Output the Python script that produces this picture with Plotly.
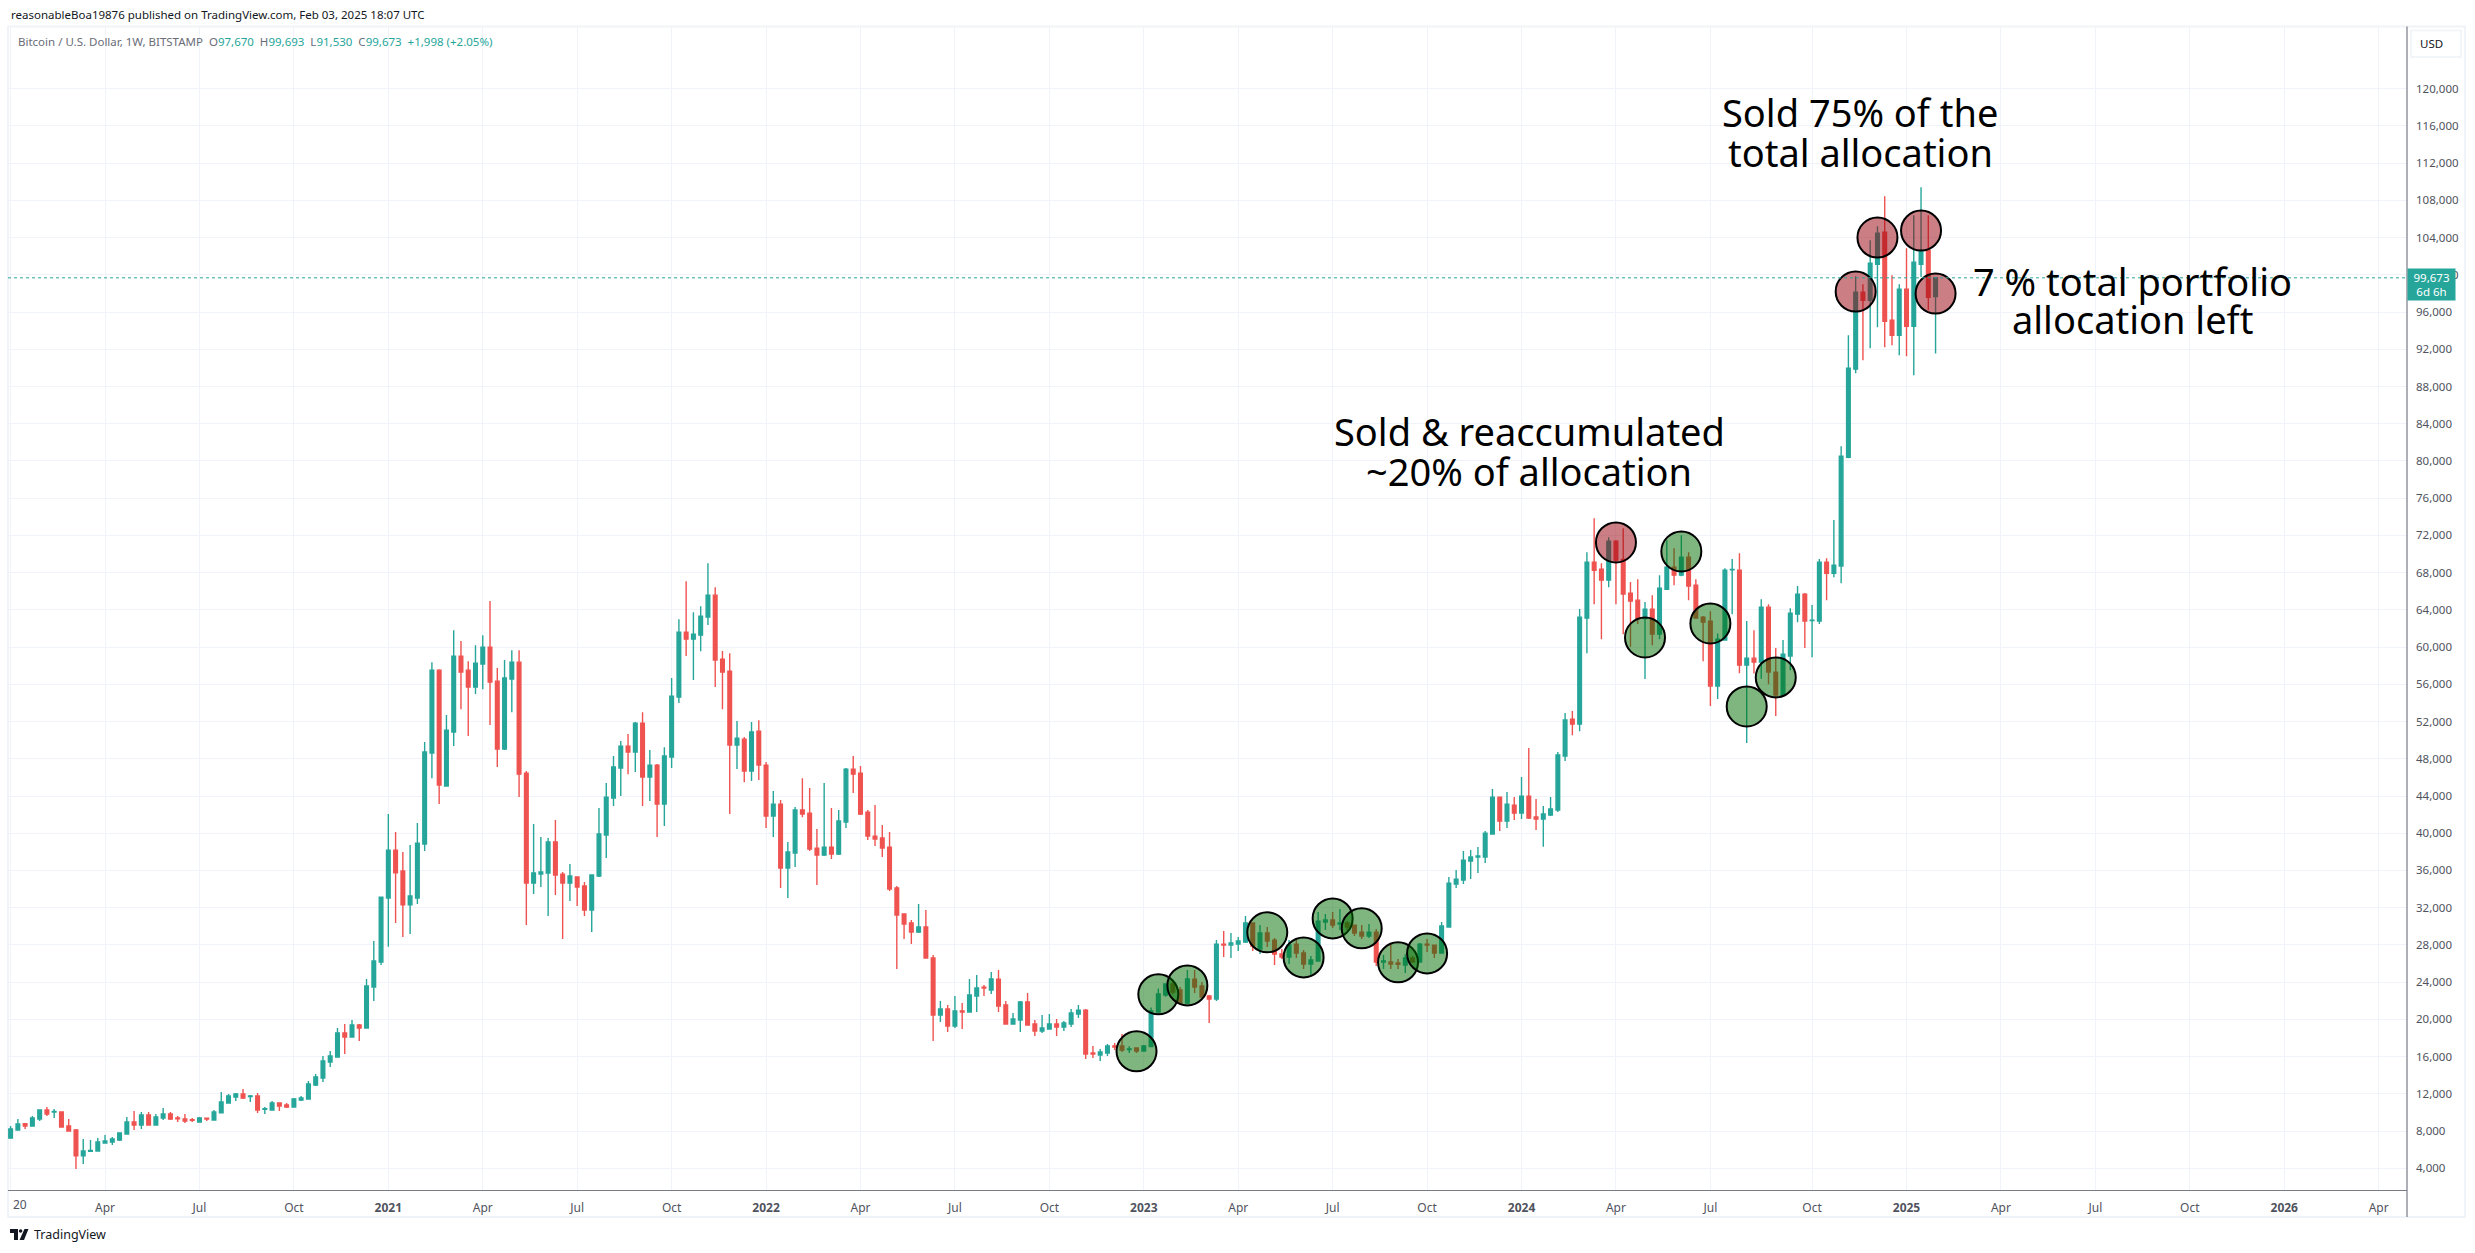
import pandas as pd
import plotly.graph_objects as go

opens = [7240,8120,8800,8550,9300,10260,10050,10050,8550,8120,
5330,5820,5860,6720,6830,7040,7690,8980,8660,9730,
8660,9400,9840,9400,9300,9230,8980,9370,9190,9950,
11020,11660,11980,11700,11770,10340,10265,11020,10800,10590,
11340,11450,12950,13700,15420,15960,18530,18100,19390,19070,
23470,26160,33040,38190,35940,32320,33040,38840,48610,57520,
45070,50870,59030,57520,55700,58170,59990,56340,49040,56560,
58380,46460,34650,35610,35720,39050,35610,34650,35290,34330,
31750,35400,39800,43780,47000,49360,48720,51830,46030,47320,
43130,48180,54620,61600,60850,61280,63220,65580,58700,57420,
49470,50110,46680,50970,47320,41840,43130,36260,37870,42490,
42160,38400,37650,38510,37760,41200,46890,46460,42270,39690,
39480,38510,34110,31320,30350,29380,29920,26590,20470,21110,
19290,20900,20790,22510,23470,23150,24330,21540,19500,19930,
21860,19500,18750,18960,19500,19180,19500,20580,21000,16390,
16170,16390,17140,17140,16760,16920,16600,17070,20790,22620,
23800,23150,21760,24330,23580,22510,22190,28090,27980,28090,
28310,30350,27560,29280,28520,27020,26700,28090,27130,25940,
26270,30460,30670,30240,30350,30130,29380,28950,29380,26160,
26160,26050,25840,26590,26160,28090,27980,27130,29920,34540,
34970,37010,37440,37440,39910,43880,41300,43020,42170,43990,
41740,41520,41950,42490,48290,52260,51720,63110,69120,68370,
67190,71380,69410,65790,65040,63070,64080,61390,66220,68590,
67730,69660,66650,63220,62790,55810,60750,68290,68260,58060,
58810,58380,64290,57310,54840,59030,63540,65690,62860,62790,
69120,67940,68700,80400,89860,98120,97260,101130,104570,95120,
93510,98450,94470,101130,102630,97670]
highs = [8550,9300,8870,9620,10260,10580,10370,10050,9300,8230,
7150,7040,7260,7580,7370,7790,9510,10160,10050,10050,
9840,10480,10050,9620,9840,9410,9510,9400,10265,12200,
11980,12090,12520,11880,12090,10590,11230,11020,11020,11550,
11770,13380,14130,16060,16600,19070,19500,19930,19500,24330,
28420,33140,42060,40120,37980,38730,41090,49790,58380,57630,
52690,61820,60640,58490,60210,61280,64940,57740,58600,59670,
59670,46680,40980,39590,39480,41410,35830,36690,35290,34760,
35510,42700,45390,48290,49900,50650,51940,53010,48930,47430,
49250,56670,63000,67080,63750,64400,69020,66440,59570,59350,
52050,50330,51940,52150,47640,44530,43560,39050,42810,45920,
44850,40450,45390,42700,42490,47000,48290,47210,42490,43020,
40880,40120,34320,31320,30670,32390,31750,26910,21970,21540,
22510,21760,24340,24770,23690,25090,25300,21970,20680,21970,
22830,19930,20470,20580,20040,19830,21110,21540,21110,17140,
16820,17350,17460,18430,17100,16930,17250,21290,23330,23800,
24230,23480,25300,25300,24010,22620,28520,29490,29280,28850,
31100,30400,30130,29920,28740,27560,28520,28520,27450,26810,
31530,31320,31530,31850,30560,30130,30130,30240,29700,26910,
28090,26480,27000,26810,28200,28630,28000,30460,35290,36040,
38080,38190,38510,40230,44740,43880,44420,43880,46030,49150,
43670,42920,43890,48720,52910,53120,64080,70200,73850,69020,
71810,71500,72780,66980,67300,64830,65580,67730,71490,70630,
72020,70200,67300,63330,63860,61460,68480,69450,70090,62790,
61820,65150,64610,59890,60750,64180,66550,65800,64510,69450,
69550,73640,81580,93510,99840,98980,103710,105210,108440,99950,
98980,102850,106390,109400,106390,99693]
lows = [7240,8120,8230,8550,9080,9620,9400,8440,8010,3930,
4470,5750,5860,6720,6510,6930,7690,8120,8230,8660,
8660,9190,9190,8980,8870,8980,8980,9080,9190,9950,
11020,11230,11440,11120,9950,9840,10265,10160,10480,10590,
11230,11450,12840,13270,14880,15960,16280,18100,17680,19070,
21970,25840,27800,30350,28850,29170,32390,38080,45920,43130,
45070,49360,53330,50440,54950,55480,51620,47110,48930,53010,
43880,30140,33470,34220,31100,33360,28630,32710,32180,31100,
29380,35290,37330,42920,43990,46350,46570,42920,43450,39590,
40770,47000,53980,59030,56450,59560,62360,55700,53330,42060,
46890,45490,45600,45710,40550,39590,34110,33030,36360,41730,
38080,34430,37550,37220,37650,40550,44310,41950,39260,38620,
37440,33790,25410,28630,28090,29280,26590,17680,19720,18640,
19070,18960,20790,20790,22510,22720,20790,19500,19500,18640,
19390,18210,18540,18960,18210,18750,19180,20150,15740,15850,
15530,16070,16710,16500,16390,16390,16600,17030,20680,22430,
22700,21650,21650,22830,22400,19610,21970,26700,26590,27340,
28200,27340,27020,27770,25840,26480,25940,26590,25410,24660,
26270,29600,29810,29600,29600,28950,28630,28740,25730,25410,
25410,25410,24980,26100,26160,27230,26590,27130,29920,34110,
34540,35070,35720,36790,39910,40230,40550,41410,41520,41520,
40340,38550,41840,42270,47750,50540,50970,59350,64610,60850,
66440,64610,61390,60030,62470,56560,60210,60850,66120,66650,
67620,65040,63110,58490,53660,54410,60750,63540,57200,49690,
57170,56600,56000,52590,54700,57520,62680,59890,58920,62470,
65040,67510,66870,80300,89430,90820,92110,94370,92220,92430,
91360,91250,89210,99770,96190,91530]
closes = [8220,8760,8550,9400,10260,9840,10120,8440,8010,5330,
5860,5930,6830,6940,7150,7790,8980,8660,9730,8660,
9510,9840,9300,9330,9080,9160,9400,9300,10050,11120,
11770,11980,11550,11770,10265,10410,11020,10700,10590,11450,
11550,13060,13810,15530,16060,18530,18100,19390,19070,23580,
26270,33140,38190,35760,32320,33250,38940,48720,57520,45170,
51080,59030,57310,55700,58280,59990,56240,49040,56670,58380,
46350,34650,35720,35830,39050,35510,34650,35400,34220,31750,
35510,39910,43880,47110,49360,48720,51830,46030,47320,43130,
48290,54730,61600,60850,61390,63320,65580,58600,57310,49470,
50220,46680,50870,47320,41840,43130,36260,37980,42490,42060,
38300,37650,38510,37760,41310,46890,46350,42060,39690,39370,
38400,34000,31210,30240,29380,29920,26590,20470,21110,19290,
20900,20790,22620,23370,23370,24340,21440,19500,20040,21860,
19390,18750,19070,19500,19180,19610,20680,21000,16280,16280,
16500,17140,17030,16710,16820,16600,17140,20900,22720,23800,
22940,21760,24340,23480,22400,22190,28090,27980,28200,28420,
30350,27880,29280,28420,27020,26700,27990,27130,25940,26380,
30560,30670,30130,30350,29920,29280,28950,29380,26160,26270,
25940,25910,26590,26160,28090,27980,27130,30030,34640,35070,
37110,37440,37550,40010,43880,41300,43130,42160,43990,41630,
41520,42060,42600,48400,52160,51720,63220,69120,68260,67190,
71380,69340,65690,64940,63070,64080,61390,66330,68590,67730,
69660,66550,63110,62680,55810,60850,68260,68340,58060,58810,
58380,64290,57310,54840,59240,63650,65690,62790,62900,69120,
67940,68800,80510,89960,98120,97260,101240,104460,95010,93510,
98450,94470,101350,102560,97590,99673]
dates = pd.date_range("2020-01-06", periods=len(opens), freq="7D")

green_bars = [155,158,162,173,178,182,186,191,195,225,230,234,239,243]
green_prices = [16570,22690,23650,29350,26660,30850,29780,26130,27090,61030,70270,62540,53620,56740]
red_bars = [221,254,257,263,265]
red_prices = [71240,98200,104000,104750,97980]

tick_dates = ["2020-04-06","2020-07-06","2020-10-05","2021-01-04","2021-04-05","2021-07-05","2021-10-04",
              "2022-01-03","2022-04-04","2022-07-04","2022-10-03","2023-01-02","2023-04-03","2023-07-03",
              "2023-10-02","2024-01-01","2024-04-01","2024-07-01","2024-10-07","2025-01-06","2025-04-07",
              "2025-07-07","2025-10-06","2026-01-05","2026-04-06"]
tick_labels = ["Apr","Jul","Oct","<b>2021</b>","Apr","Jul","Oct","<b>2022</b>","Apr","Jul","Oct","<b>2023</b>","Apr","Jul",
               "Oct","<b>2024</b>","Apr","Jul","Oct","<b>2025</b>","Apr","Jul","Oct","<b>2026</b>","Apr"]
price_ticks = list(range(4000, 124000, 4000))
last_price = 99673

W, H = 2475, 1253
L, R, T, B = 8, 2407, 27, 1190
UP, DOWN = "#26a69a", "#ef5350"
GRID = "#f0f3fa"
AXIS = "#787b86"
TICK = "#50535e"
FONT = "Noto Sans"

def fx(x): return (x - L) / (R - L)
def fy(y): return (B - y) / (B - T)
def note(text, x, y, size, color="#000000", xanchor="center", **kw):
    return dict(text=text, x=fx(x), y=fy(y), xref="paper", yref="paper", xanchor=xanchor, yanchor="middle",
                showarrow=False, align=xanchor if xanchor != "left" else "left",
                font=dict(family=FONT, size=size, color=color), **kw)

fig = go.Figure()
fig.add_trace(go.Candlestick(
    x=dates, open=opens, high=highs, low=lows, close=closes,
    increasing=dict(line=dict(color=UP, width=1.4), fillcolor=UP),
    decreasing=dict(line=dict(color=DOWN, width=1.4), fillcolor=DOWN),
    whiskerwidth=0, hoverinfo="skip", showlegend=False))
fig.add_trace(go.Scatter(
    x=[dates[i] for i in green_bars], y=green_prices, mode="markers", hoverinfo="skip", showlegend=False,
    marker=dict(size=40, color="rgba(0,110,0,0.5)", line=dict(color="#000000", width=2))))
fig.add_trace(go.Scatter(
    x=[dates[i] for i in red_bars], y=red_prices, mode="markers", hoverinfo="skip", showlegend=False,
    marker=dict(size=40, color="rgba(151,0,10,0.5)", line=dict(color="#000000", width=2))))

shapes = [
    dict(type="rect", xref="paper", yref="paper", x0=fx(8), x1=fx(2465), y0=fy(1217), y1=fy(26.5),
         line=dict(color="#f0f3f7", width=2), layer="below"),
    dict(type="line", xref="paper", yref="y", x0=0, x1=1, y0=last_price, y1=last_price,
         line=dict(color=UP, width=1, dash="dot")),
    dict(type="line", xref="paper", yref="paper", x0=fx(R), x1=fx(R), y0=fy(1217), y1=fy(26.5),
         line=dict(color=AXIS, width=1.2)),
    dict(type="rect", xref="paper", yref="paper", x0=fx(2411), x1=fx(2461), y0=fy(57), y1=fy(30.5),
         line=dict(color="#f0f3f7", width=1.5)),
    # TradingView logo
    dict(type="path", xref="paper", yref="paper", fillcolor="#131722", line=dict(width=0),
         path=f"M{fx(10)} {fy(1229)} L{fx(18)} {fy(1229)} L{fx(18)} {fy(1240)} L{fx(14)} {fy(1240)} L{fx(14)} {fy(1233)} L{fx(10)} {fy(1233)} Z"),
    dict(type="circle", xref="paper", yref="paper", fillcolor="#131722", line=dict(width=0),
         x0=fx(18.8), x1=fx(22.4), y0=fy(1232.8), y1=fy(1229.2)),
    dict(type="path", xref="paper", yref="paper", fillcolor="#131722", line=dict(width=0),
         path=f"M{fx(24.5)} {fy(1229)} L{fx(28.5)} {fy(1229)} L{fx(24)} {fy(1240)} L{fx(19.5)} {fy(1240)} Z"),
]

g = lambda s: f'<span style="color:{UP}">{s}</span>'
legend = ("Bitcoin / U.S. Dollar, 1W, BITSTAMP  O" + g("97,670") + "  H" + g("99,693") + "  L" + g("91,530")
          + "  C" + g("99,673") + "  " + g("+1,998 (+2.05%)"))
annotations = [
    note("reasonableBoa19876 published on TradingView.com, Feb 03, 2025 18:07 UTC", 8.5, 14.5, 11.5, "#131722", "left"),
    note(legend, 16, 41.5, 11.5, "#6a6d78", "left"),
    note("20", 11, 1204.5, 12, TICK, "left"),
    note("USD", 2431.5, 43.5, 11.5, "#131722"),
    note("99,673<br>6d 6h", 2431.5, 284.5, 11.5, "#ffffff", bgcolor=UP, width=47, height=31, borderpad=0),
    note("TradingView", 32, 1234.5, 12.5, "#131722", "left"),
    note("Sold 75% of the", 1860, 112, 38),
    note("total allocation", 1860, 152, 38),
    note("Sold &amp; reaccumulated", 1529, 431, 38),
    note("~20% of allocation", 1529, 471, 38),
    note("7 % total portfolio", 2132, 281, 38),
    note("allocation left", 2132, 319, 38),
]

fig.update_layout(
    width=W, height=H, autosize=False,
    margin=dict(l=L, r=W - R, t=T, b=H - B, pad=0),
    paper_bgcolor="#ffffff", plot_bgcolor="#ffffff",
    boxgap=0.5, boxgroupgap=0, showlegend=False, shapes=shapes, annotations=annotations,
    font=dict(family=FONT, size=12, color=TICK),
    xaxis=dict(type="date", range=["2020-01-03 12:00", "2026-05-03 07:00"], rangeslider=dict(visible=False),
               tickmode="array", tickvals=tick_dates + ["2020-01-06"], ticktext=tick_labels + [" "],
               showgrid=True, gridcolor=GRID, gridwidth=1, zeroline=False, ticks="", ticklabelstandoff=6,
               showline=True, linecolor=AXIS, linewidth=1.2, tickangle=0,
               tickfont=dict(family=FONT, size=12, color=TICK)),
    yaxis=dict(side="right", range=[1669, 126621], tickmode="array", tickvals=price_ticks,
               tickformat=",", showgrid=True, gridcolor=GRID, gridwidth=1, zeroline=False,
               ticks="", ticklabelstandoff=8, showline=False,
               tickfont=dict(family=FONT, size=11.5, color=TICK)),
)

fig.write_html("out.html", config=dict(displayModeBar=False),
               post_script="document.body.style.margin='0';document.documentElement.style.overflow='hidden';")
